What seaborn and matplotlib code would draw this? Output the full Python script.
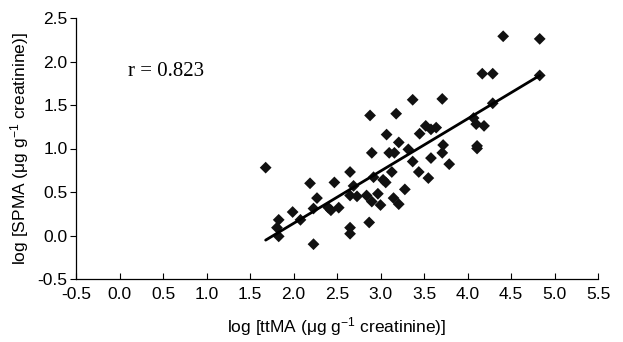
import matplotlib
matplotlib.use("Agg")
import matplotlib.pyplot as plt
import seaborn as sns
import numpy as np
import pandas as pd

# Data (log ttMA vs log SPMA)
log_ttma = [1.68, 1.83, 1.81, 1.83, 1.99, 2.08, 2.19, 2.23, 2.27, 2.23,
            2.47, 2.65, 2.90, 3.10, 3.16, 3.13, 2.92, 3.03, 3.06, 2.69,
            2.65, 2.73, 2.84, 2.97, 2.90, 3.00, 3.15, 2.40, 2.43, 2.52,
            2.65, 2.65, 2.87, 3.32, 3.37, 3.58, 3.71, 3.79, 3.44, 3.55,
            3.28, 3.21, 4.41, 4.83, 4.83, 4.17, 4.29, 4.29, 3.37, 3.71,
            3.18, 3.07, 3.52, 3.45, 3.58, 3.64, 4.07, 4.10, 4.19, 3.21,
            3.72, 4.11, 4.11, 2.88]
log_spma = [0.78, 0.18, 0.09, -0.01, 0.27, 0.18, 0.60, 0.31, 0.43, -0.10,
            0.61, 0.73, 0.95, 0.95, 0.95, 0.73, 0.67, 0.64, 0.61, 0.57,
            0.46, 0.45, 0.46, 0.48, 0.39, 0.35, 0.43, 0.32, 0.29, 0.32,
            0.09, 0.02, 0.15, 0.99, 0.85, 0.89, 0.95, 0.82, 0.73, 0.66,
            0.53, 0.36, 2.29, 2.26, 1.84, 1.86, 1.86, 1.52, 1.56, 1.57,
            1.40, 1.16, 1.26, 1.17, 1.22, 1.24, 1.35, 1.28, 1.26, 1.07,
            1.04, 1.03, 1.00, 1.38]

x_ticks = [-0.5, 0.0, 0.5, 1.0, 1.5, 2.0, 2.5, 3.0, 3.5, 4.0, 4.5, 5.0, 5.5]
y_ticks = [-0.5, 0.0, 0.5, 1.0, 1.5, 2.0, 2.5]
r_label = "r = 0.823"

df = pd.DataFrame({"ttMA": log_ttma, "SPMA": log_spma})

sns.set_theme(style="white")
plt.rcParams["font.family"] = ["Liberation Sans", "DejaVu Sans"]
plt.rcParams["mathtext.fontset"] = "custom"
plt.rcParams["mathtext.rm"] = "Liberation Sans"
plt.rcParams["mathtext.it"] = "Liberation Sans:italic"

fig = plt.figure(figsize=(6.23, 3.42), dpi=100)
ax = fig.add_axes([76/623, 1-279/342, 522/623, 261/342])

sns.regplot(data=df, x="ttMA", y="SPMA", ax=ax, ci=None, truncate=True,
            marker="D",
            scatter_kws={"s": 36, "color": "#111111", "edgecolors": "none", "alpha": 1},
            line_kws={"color": "black", "lw": 2.0})

ax.set_xlim(-0.5, 5.5)
ax.set_ylim(-0.5, 2.5)
ax.set_xticks(x_ticks)
ax.set_yticks(y_ticks)
ax.set_xticklabels([f"{t:.1f}" for t in x_ticks])
ax.set_yticklabels([f"{t:.1f}" for t in y_ticks])

for s in ["top", "right"]:
    ax.spines[s].set_visible(False)
for s in ["left", "bottom"]:
    ax.spines[s].set_color("black")
    ax.spines[s].set_linewidth(0.9)

ax.tick_params(axis="x", direction="in", length=4, width=0.8, colors="black",
               labelsize=12.5, pad=6, bottom=True)
ax.tick_params(axis="y", direction="out", length=4, width=0.8, colors="black",
               labelsize=12.5, pad=2, left=True)

ax.set_xlabel(r"log [ttMA (μg g$^{-1}$ creatinine)]", fontsize=12.5, color="black", labelpad=9)
ax.set_ylabel(r"log [SPMA (μg g$^{-1}$ creatinine)]", fontsize=12.5, color="black", labelpad=5)

ax.text(0.10, 1.88, r_label, fontsize=15, family=["Liberation Serif", "DejaVu Serif"],
        color="black", va="center", ha="left")

fig.savefig("out.png", dpi=100)
